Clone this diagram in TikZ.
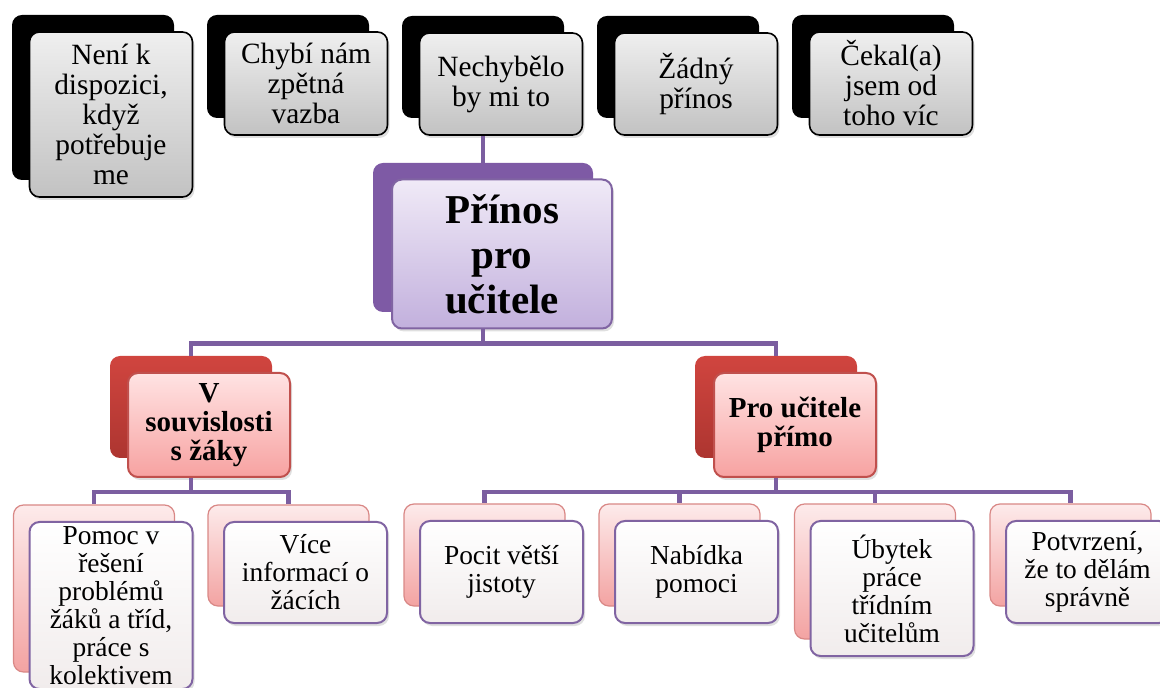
\documentclass[tikz,border=0pt]{standalone}
\usepackage{fontspec}
\setmainfont{Liberation Serif}
\usetikzlibrary{shadows}

\definecolor{connpurple}{HTML}{7B5EA0}
\definecolor{greytop}{HTML}{EFEFEF}
\definecolor{greybot}{HTML}{C2C2C2}
\definecolor{purpleback}{HTML}{7E5AA5}
\definecolor{purpleedge}{HTML}{8064A2}
\definecolor{lilactop}{HTML}{F0EAF7}
\definecolor{lilacbot}{HTML}{C2B0DD}
\definecolor{redtop}{HTML}{D0453F}
\definecolor{redbot}{HTML}{AD3530}
\definecolor{rededge}{HTML}{C0504D}
\definecolor{pinktop}{HTML}{FFE3E3}
\definecolor{pinkbot}{HTML}{F7A2A1}
\definecolor{rosetop}{HTML}{FDEBEB}
\definecolor{rosebot}{HTML}{F3A3A2}
\definecolor{roseedge}{HTML}{D98886}
\definecolor{paletop}{HTML}{FFFFFF}
\definecolor{palebot}{HTML}{F1ECEC}

\begin{document}
\begin{tikzpicture}[x=0.5pt, y=-0.5pt,
  conn/.style={line width=2.4pt, connpurple},
  softshadow/.style={drop shadow={opacity=0.25, shadow xshift=1pt, shadow yshift=-1.5pt}},
  card/.style={rounded corners=5pt, inner sep=0pt, align=center},
  topback/.style={card, fill=black, minimum width=81pt},
  topfront/.style={card, draw=black, line width=0.8pt, top color=greytop, bottom color=greybot,
    minimum width=81.5pt, softshadow, font=\fontsize{14.7}{15}\selectfont},
  rootback/.style={card, fill=purpleback, minimum width=110pt, minimum height=74.5pt},
  rootfront/.style={card, draw=purpleedge, line width=1pt, top color=lilactop, bottom color=lilacbot,
    minimum width=110pt, minimum height=74.5pt, softshadow, font=\fontsize{20.5}{22.5}\selectfont\bfseries},
  midback/.style={card, top color=redtop, bottom color=redbot, minimum width=81pt, minimum height=51pt},
  midfront/.style={card, draw=rededge, line width=1pt, top color=pinktop, bottom color=pinkbot,
    minimum width=81pt, minimum height=52pt, softshadow, font=\fontsize{14.5}{14.5}\selectfont\bfseries},
  lowback/.style={card, draw=roseedge, line width=0.6pt, top color=rosetop, bottom color=rosebot,
    minimum width=80.5pt},
  lowfront/.style={card, draw=purpleedge, line width=1pt, top color=paletop, bottom color=palebot,
    minimum width=81.5pt, softshadow, font=\fontsize{13.7}{14}\selectfont}
]
\useasboundingbox (0,0) rectangle (1160,688);

% top row
\foreach \nm/\x/\y/\h/\txt in {
  neni/111/114.5/82.5/{Není k\\dispozici,\\když\\potřebuje\\me},
  vazba/306/83.5/51.5/{Chybí nám\\zpětná\\vazba},
  nechybelo/501/84/51/{Nechybělo\\by mi to},
  zadny/696/84/51/{Žádný\\přínos},
  cekal/891/83.5/51.5/{Čekal(a)\\jsem od\\toho víc}} {
  \node[topback, minimum height=\h pt] (\nm-b) at (\x-18,\y-17) {};
  \node[topfront, minimum height=\h pt] (\nm) at (\x,\y) {\txt};
}

% root
\node[rootback] (prinos-b) at (483,237.5) {};
\node[rootfront] (prinos) at (502,254) {Přínos\\pro\\učitele};

% second level
\node[midback] (zaky-b) at (191,407) {};
\node[midfront] (zaky) at (209,425) {V\\souvislosti\\s žáky};
\node[midback] (primo-b) at (776,407) {};
\node[midfront] (primo) at (795,425) {Pro učitele\\přímo};

% third level
\foreach \nm/\x/\y/\h/\txt in {
  pomoc/111/605.5/83.5/{Pomoc v\\řešení\\problémů\\žáků a tříd,\\práce s\\kolektivem},
  info/305.5/572.5/50.5/{Více\\informací o\\žácích},
  jistota/501.5/572/51/{Pocit větší\\jistoty},
  nabidka/696.5/572/51/{Nabídka\\pomoci},
  ubytek/892/588.5/67.5/{Úbytek\\práce\\třídním\\učitelům},
  potvrzeni/1087.5/572/51/{Potvrzení,\\že to dělám\\správně}} {
  \node[lowback, minimum height=\h pt] (\nm-b) at (\x-17,\y-17) {};
  \node[lowfront, minimum height=\h pt] (\nm) at (\x,\y) {\txt};
}

% connectors
\draw[conn] (prinos-b.north) -- (prinos-b.north |- nechybelo.south);
\draw[conn] (prinos-b |- prinos.south) -- ++(0,14) -| (zaky-b.north);
\draw[conn] (prinos-b |- prinos.south) -- ++(0,14) -| (primo-b.north);
\foreach \nm in {pomoc,info}
  \draw[conn] (zaky-b |- zaky.south) -- ++(0,14) -| (\nm-b.north);
\foreach \nm in {jistota,nabidka,ubytek,potvrzeni}
  \draw[conn] (primo-b |- primo.south) -- ++(0,14) -| (\nm-b.north);
\end{tikzpicture}
\end{document}
